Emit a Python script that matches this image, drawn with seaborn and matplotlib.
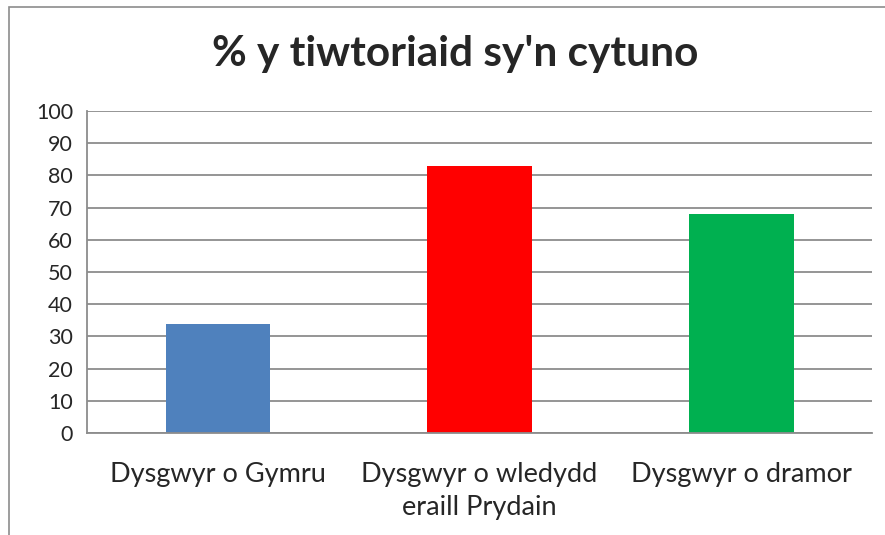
import matplotlib
matplotlib.use("Agg")
import matplotlib.pyplot as plt
import seaborn as sns
import pandas as pd
from matplotlib.patches import Rectangle

categories = ["Dysgwyr o Gymru", "Dysgwyr o wledydd\neraill Prydain", "Dysgwyr o dramor"]
values = [34, 83, 68]
colors = ["#4F81BD", "#FF0000", "#00B050"]
yticks = [0, 10, 20, 30, 40, 50, 60, 70, 80, 90, 100]
title = "% y tiwtoriaid sy'n cytuno"

sns.set_theme(style="white")
plt.rcParams['font.family'] = ['Lato', 'DejaVu Sans']

df = pd.DataFrame({"cat": categories, "val": values})

fig = plt.figure(figsize=(8.85, 5.35), dpi=100)
ax = fig.add_axes([87/885, 1 - 433/535, (872 - 87)/885, (433 - 111)/535])

sns.barplot(data=df, x="cat", y="val", hue="cat", palette=colors, legend=False,
            width=0.4, ax=ax, saturation=1, linewidth=0)

ax.set_ylim(0, 100)
ax.set_xlim(-0.5, 2.5)
ax.set_yticks(yticks)
ax.set_yticklabels([str(t) for t in yticks], fontsize=15.5)
ax.yaxis.grid(True, color="#8c8c8c", linewidth=1.3)
ax.set_axisbelow(True)
ax.set_xlabel("")
ax.set_ylabel("")

ax.set_xticks([0, 1, 2])
ax.set_xticklabels(categories, fontsize=19.5, linespacing=1.4, va="top")
ax.tick_params(axis="x", which="major", length=0, pad=21)
ax.set_xticks([-0.5, 0.5, 1.5, 2.5], minor=True)
ax.tick_params(axis="x", which="minor", length=8, width=1.3, color="#8c8c8c", direction="out")
ax.tick_params(axis="y", length=6, width=1.3, color="#8c8c8c", direction="out", pad=4)

for s in ["top", "right"]:
    ax.spines[s].set_visible(False)
for s in ["left", "bottom"]:
    ax.spines[s].set_color("#8c8c8c")
    ax.spines[s].set_linewidth(1.3)

fig.text(455/885, 1 - 54/535, title, ha="center", va="center", fontsize=30.5, fontweight="bold")

fig.patches.append(Rectangle((9/885, -0.1), 1.2, 1 - 7/535 + 0.1, transform=fig.transFigure,
                             fill=False, edgecolor="#8c8c8c", linewidth=1.2))

fig.savefig("out.png", dpi=100)
